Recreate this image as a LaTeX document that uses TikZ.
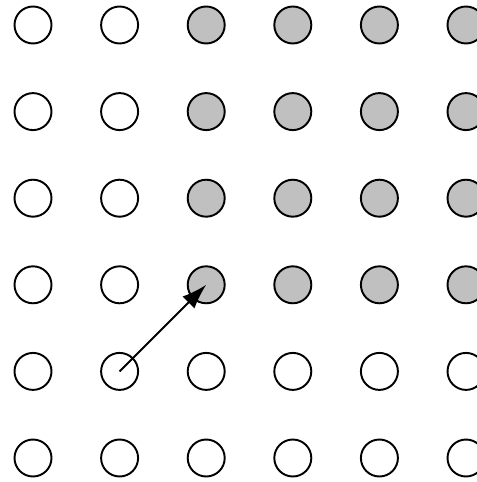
\documentclass[tikz,border=0pt]{standalone}
\usetikzlibrary{arrows.meta}
\definecolor{dotgray}{RGB}{192,192,192}

\begin{document}
\begin{tikzpicture}[x=0.02cm,y=-0.02cm,
  dot/.style={draw,circle,line width=1.1pt,minimum size=0.74cm,inner sep=0pt,fill=white},
  hit/.style={dot,fill=dotgray},
  edge/.style={-{Latex[length=5mm,width=3.4mm]},line width=1.1pt}
]
  \useasboundingbox (0,0) rectangle (476,482);
  \foreach \i in {1,...,6}
    \foreach \j in {1,...,6} {
      \pgfmathsetmacro{\px}{33+86.6*(\i-1)}
      \pgfmathsetmacro{\py}{25+86.6*(\j-1)}
      \ifnum\i>2 \ifnum\j<5
        \node[hit] (p-\i-\j) at (\px,\py) {};
      \else
        \node[dot] (p-\i-\j) at (\px,\py) {};
      \fi \else
        \node[dot] (p-\i-\j) at (\px,\py) {};
      \fi
    }

  \draw[edge] (p-2-5.center) -- (p-3-4.center);
\end{tikzpicture}
\end{document}
